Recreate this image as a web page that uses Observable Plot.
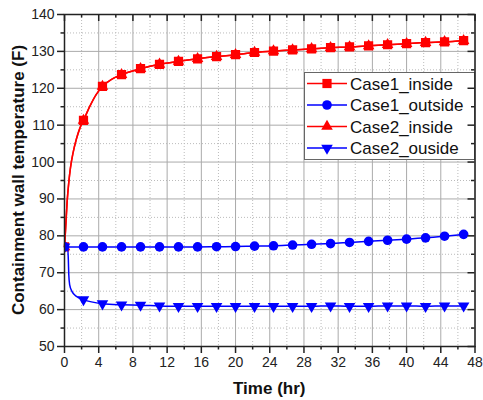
<!DOCTYPE html>
<html>
<head>
<meta charset="utf-8">
<script src="https://cdn.jsdelivr.net/npm/d3@7"></script>
<script src="https://cdn.jsdelivr.net/npm/@observablehq/plot@0.6"></script>
<style>
  html, body { margin: 0; padding: 0; background: #fff; }
  #chart { width: 483px; height: 400px; }
  svg { display: block; }
</style>
</head>
<body>
<div id="chart"></div>
<script>
// ---- data ----
const markerTimes = [0, 2.22, 4.44, 6.67, 8.89, 11.11, 13.33, 15.56, 17.78, 20, 22.22, 24.44, 26.67, 28.89, 31.11, 33.33, 35.56, 37.78, 40, 42.22, 44.44, 46.67];
const case1Inside  = [77, 111.3, 120.5, 123.7, 125.3, 126.5, 127.3, 128.0, 128.6, 129.1, 129.7, 130.1, 130.4, 130.7, 131.0, 131.2, 131.5, 131.8, 132.1, 132.4, 132.6, 132.9];
const case2Inside  = [77, 111.3, 120.5, 123.7, 125.3, 126.5, 127.3, 128.0, 128.6, 129.1, 129.7, 130.1, 130.4, 130.7, 131.0, 131.2, 131.5, 131.8, 132.1, 132.4, 132.6, 132.9];
const case1Outside = [77, 77.0, 77.0, 77.0, 77.0, 77.0, 77.0, 77.0, 77.05, 77.1, 77.2, 77.3, 77.5, 77.7, 77.9, 78.2, 78.5, 78.8, 79.1, 79.45, 79.9, 80.4];
const case2Outside = [77, 62.7, 61.6, 61.3, 61.2, 61.0, 60.9, 60.9, 60.9, 60.9, 60.9, 60.9, 60.9, 60.9, 61.0, 60.9, 60.9, 61.0, 61.0, 60.9, 61.0, 61.0];
// extra points of the curves between markers (transient part)
const insideCurveTimes  = [0.12, 0.3, 0.5, 0.7, 1.0, 1.4, 1.8, 3.0, 3.7, 5.5];
const insideCurveValues = [81.5, 89, 94.5, 98.5, 102.5, 106.3, 109.2, 115.3, 118.3, 122.4];
const outsideCurveTimes  = [0.35, 0.45, 0.5, 0.6, 0.9, 1.4];
const outsideCurveValues = [76.8, 73.5, 69.5, 66.8, 64.8, 63.6];

const seriesNames = ["Case1_inside", "Case1_outside", "Case2_inside", "Case2_ouside"];
const xMajorTicks = [0, 4, 8, 12, 16, 20, 24, 28, 32, 36, 40, 44, 48];
const xMinorTicks = [2, 6, 10, 14, 18, 22, 26, 30, 34, 38, 42, 46];
const yMajorTicks = [50, 60, 70, 80, 90, 100, 110, 120, 130, 140];
const yMinorTicks = [55, 65, 75, 85, 95, 105, 115, 125, 135];

// ---- build tables ----
const pts = (ts, vs) => ts.map((t, i) => ({t, v: vs[i]}));
const byT = (a, b) => a.t - b.t;
const c1in  = pts(markerTimes, case1Inside);
const c2in  = pts(markerTimes, case2Inside);
const c1out = pts(markerTimes, case1Outside);
const c2out = pts(markerTimes, case2Outside);
const c1inLine  = c1in.concat(pts(insideCurveTimes, insideCurveValues)).sort(byT);
const c2inLine  = c2in.concat(pts(insideCurveTimes, insideCurveValues)).sort(byT);
const c2outLine = c2out.concat(pts(outsideCurveTimes, outsideCurveValues)).sort(byT);

const RED = "#ff0000", BLUE = "#0000ff";
const triDown = {
  draw(ctx, size) {
    const y = Math.sqrt(size / (3 * Math.sqrt(3)));
    ctx.moveTo(0, 2 * y);
    ctx.lineTo(-Math.sqrt(3) * y, -y);
    ctx.lineTo(Math.sqrt(3) * y, -y);
    ctx.closePath();
  }
};

const W = 483, H = 400, ML = 64, MR = 8.5, MT = 14, MB = 54;
const plotW = W - ML - MR, plotH = H - MT - MB;
const axisColor = "#222";
const R_SQ = 5.2, R_CI = 4.8, R_TRI = 4.3;

const chart = Plot.plot({
  width: W, height: H,
  marginLeft: ML, marginRight: MR, marginTop: MT, marginBottom: MB,
  style: {fontFamily: "'Liberation Sans', Arial, sans-serif", fontSize: "14px", background: "#fff", color: axisColor},
  x: {domain: [0, 48]},
  y: {domain: [50, 140]},
  marks: [
    Plot.gridX(xMinorTicks, {stroke: "#bbb", strokeOpacity: 1, strokeDasharray: "1,2"}),
    Plot.gridY(yMinorTicks, {stroke: "#bbb", strokeOpacity: 1, strokeDasharray: "1,2"}),
    Plot.gridX(xMajorTicks, {stroke: "#aaa", strokeOpacity: 1, strokeWidth: 1}),
    Plot.gridY(yMajorTicks, {stroke: "#aaa", strokeOpacity: 1, strokeWidth: 1}),

    Plot.line(c1inLine, {x: "t", y: "v", stroke: RED, strokeWidth: 1.5, curve: "monotone-x"}),
    Plot.line(c2inLine, {x: "t", y: "v", stroke: RED, strokeWidth: 1.5, curve: "monotone-x"}),
    Plot.dot(c1in, {x: "t", y: "v", symbol: "square", r: R_SQ, fill: RED, stroke: "none", clip: true}),
    Plot.dot(c2in, {x: "t", y: "v", symbol: "triangle", r: R_TRI, fill: RED, stroke: "none", clip: true}),
    Plot.line(c1out, {x: "t", y: "v", stroke: BLUE, strokeWidth: 1.5, curve: "monotone-x"}),
    Plot.line(c2outLine, {x: "t", y: "v", stroke: BLUE, strokeWidth: 1.5, curve: "monotone-x"}),
    Plot.dot(c1out, {x: "t", y: "v", symbol: "circle", r: R_CI, fill: BLUE, stroke: "none", clip: true}),
    Plot.dot(c2out, {x: "t", y: "v", symbol: triDown, r: R_TRI, fill: BLUE, stroke: "none", clip: true}),

    // outward axes (left / bottom)
    Plot.axisX({ticks: xMajorTicks, tickSize: 7, tickPadding: 4, fontSize: 14, label: null, stroke: axisColor, strokeWidth: 1.5, color: axisColor}),
    Plot.axisX({ticks: xMinorTicks, tickSize: 3.5, tickFormat: () => "", label: null, stroke: axisColor, strokeWidth: 1.5}),
    Plot.axisY({ticks: yMajorTicks, tickSize: 7, tickPadding: 3, fontSize: 14, label: null, stroke: axisColor, strokeWidth: 1.5, color: axisColor}),
    Plot.axisY({ticks: yMinorTicks, tickSize: 3.5, tickFormat: () => "", label: null, stroke: axisColor, strokeWidth: 1.5}),
    // inward ticks (top / right)
    Plot.tickX(xMajorTicks, {x: d => d, insetBottom: plotH - 7, stroke: axisColor, strokeWidth: 1.5}),
    Plot.tickX(xMinorTicks, {x: d => d, insetBottom: plotH - 3.5, stroke: axisColor, strokeWidth: 1.5}),
    Plot.tickY(yMajorTicks, {y: d => d, insetLeft: plotW - 7, stroke: axisColor, strokeWidth: 1.5}),
    Plot.tickY(yMinorTicks, {y: d => d, insetLeft: plotW - 3.5, stroke: axisColor, strokeWidth: 1.5}),
    Plot.frame({stroke: axisColor, strokeWidth: 1.5})
  ]
});

document.getElementById("chart").appendChild(chart);

// ---- titles and legend ----
const svg = d3.select(chart);
const font = "'Liberation Sans', Arial, sans-serif";
svg.append("text")
  .attr("x", ML + plotW / 2).attr("y", 394)
  .attr("text-anchor", "middle")
  .attr("font-family", font).attr("font-size", 17).attr("font-weight", "bold").attr("fill", "#111")
  .text("Time (hr)");
svg.append("text")
  .attr("transform", `translate(23.5,${MT + plotH / 2}) rotate(-90)`)
  .attr("text-anchor", "middle")
  .attr("font-family", font).attr("font-size", 17).attr("font-weight", "bold").attr("fill", "#111")
  .text("Containment wall temperature (F)");

const leg = svg.append("g");
leg.append("rect").attr("x", 304.5).attr("y", 72.5).attr("width", 170).attr("height", 87)
  .attr("fill", "#fff").attr("stroke", "#666").attr("stroke-width", 1);
const legColors = [RED, BLUE, RED, BLUE];
const legSymbols = [
  d3.symbol(d3.symbolSquare, Math.PI * R_SQ * R_SQ),
  d3.symbol(d3.symbolCircle, Math.PI * R_CI * R_CI),
  d3.symbol(d3.symbolTriangle, Math.PI * R_TRI * R_TRI),
  d3.symbol(triDown, Math.PI * R_TRI * R_TRI)
];
const rowY = [83.5, 105, 126.5, 148];
seriesNames.forEach((name, i) => {
  const y = rowY[i];
  leg.append("line").attr("x1", 307).attr("x2", 347).attr("y1", y).attr("y2", y)
    .attr("stroke", legColors[i]).attr("stroke-width", 1.5);
  leg.append("path").attr("d", legSymbols[i]()).attr("transform", `translate(327,${y})`)
    .attr("fill", legColors[i]);
  leg.append("text").attr("x", 350).attr("y", y).attr("dy", "0.36em")
    .attr("text-anchor", "start")
    .attr("font-family", font).attr("font-size", 17).attr("fill", "#111").text(name);
});
// keep frame and inward ticks above the legend box
svg.selectAll('g[aria-label="tick"], [aria-label="frame"]').each(function () { this.parentNode.appendChild(this); });
</script>
</body>
</html>
